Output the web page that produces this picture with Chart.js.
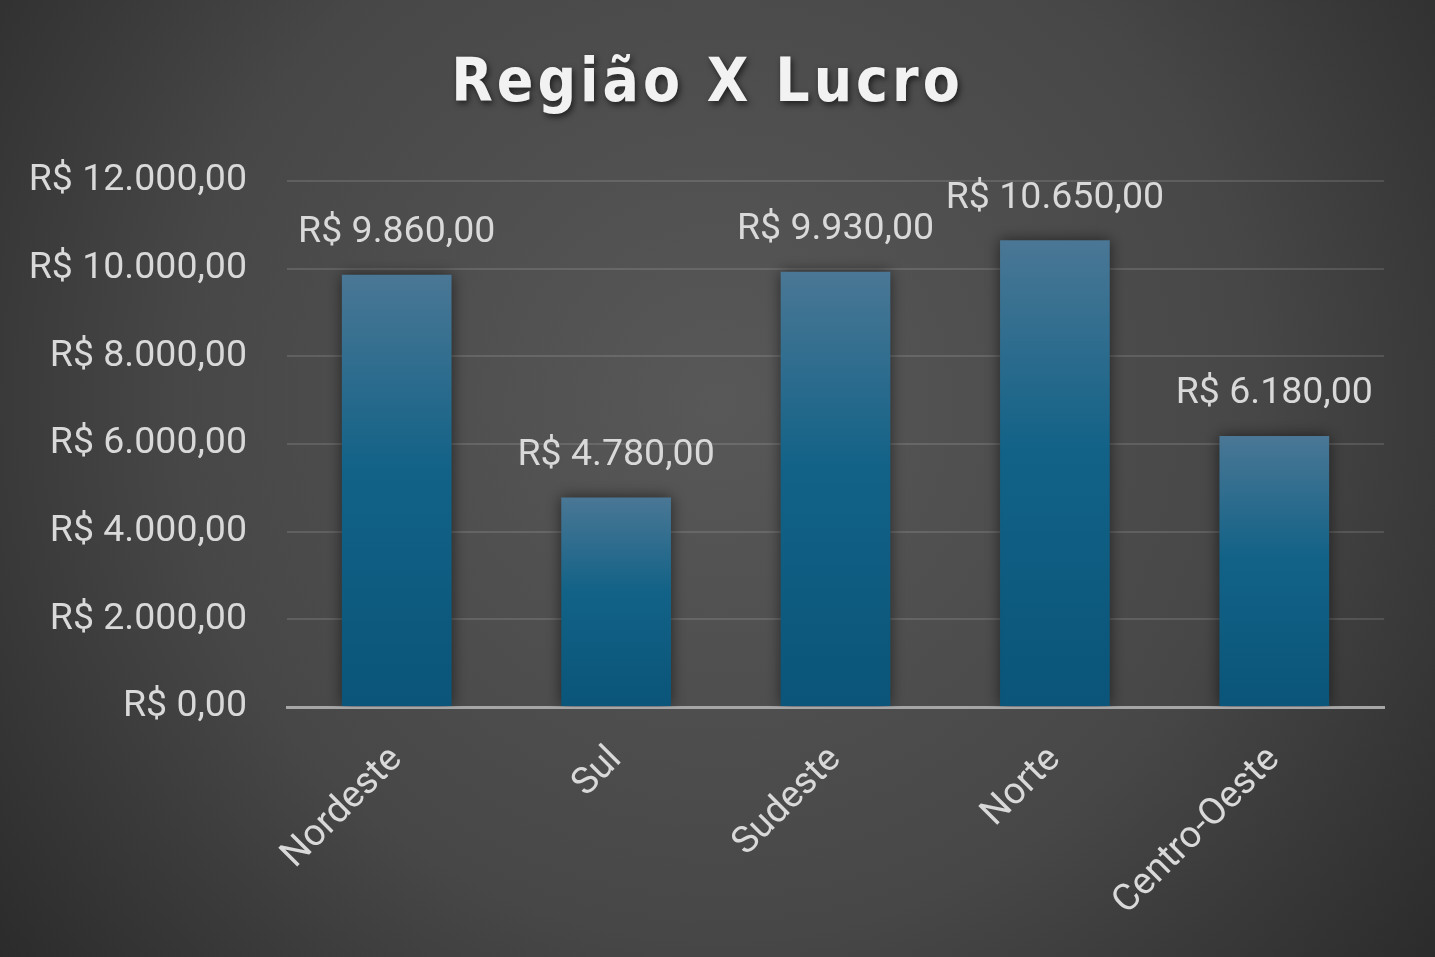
<!DOCTYPE html>
<html>
<head>
<meta charset="utf-8">
<script src="https://cdn.jsdelivr.net/npm/chart.js@4.4.1/dist/chart.umd.min.js"></script>
<style>
  html, body { margin: 0; padding: 0; background: #3a3a3a; }
  #wrap { width: 1435px; height: 957px; position: relative; }
</style>
</head>
<body>
<div id="wrap"><canvas id="c" width="1435" height="957"></canvas></div>
<script>
const categories = ['Nordeste', 'Sul', 'Sudeste', 'Norte', 'Centro-Oeste'];
const lucro = [9860, 4780, 9930, 10650, 6180];
const yTicks = [0, 2000, 4000, 6000, 8000, 10000, 12000];
const titleText = 'Região X Lucro';

function brl(v) {
  const fixed = Math.abs(v).toFixed(2);
  let [intPart, dec] = fixed.split('.');
  intPart = intPart.replace(/\B(?=(\d{3})+(?!\d))/g, '.');
  return 'R$ ' + (v < 0 ? '-' : '') + intPart + ',' + dec;
}

const TEXT = '#d9d9d9';
const FONT = "Roboto, 'Liberation Sans', sans-serif";
const FSIZE = 37.5;

const bgPlugin = {
  id: 'bg',
  beforeDraw(chart) {
    const { ctx, width, height } = chart;
    ctx.save();
    const g = ctx.createRadialGradient(width * 0.5, height * 0.42, 0, width * 0.5, height * 0.42, width * 0.68);
    g.addColorStop(0, '#585858');
    g.addColorStop(0.55, '#474747');
    g.addColorStop(1, '#262626');
    ctx.fillStyle = g;
    ctx.fillRect(0, 0, width, height);
    ctx.restore();
  }
};

const shadowPlugin = {
  id: 'barShadow',
  beforeDatasetDraw(chart) {
    const ctx = chart.ctx;
    ctx.save();
    ctx.shadowColor = 'rgba(0,0,0,0.55)';
    ctx.shadowBlur = 14;
    ctx.shadowOffsetX = 0;
    ctx.shadowOffsetY = 0;
  },
  afterDatasetDraw(chart) {
    chart.ctx.restore();
  }
};

const labelPlugin = {
  id: 'valueLabels',
  afterDatasetsDraw(chart) {
    const ctx = chart.ctx;
    const meta = chart.getDatasetMeta(0);
    ctx.save();
    ctx.font = FSIZE + 'px ' + FONT;
    ctx.fillStyle = TEXT;
    ctx.textAlign = 'center';
    ctx.textBaseline = 'middle';
    meta.data.forEach((bar, i) => {
      const v = chart.data.datasets[0].data[i];
      ctx.fillText(brl(v), bar.x, bar.y - 42);
    });
    ctx.restore();
  }
};

function barGradient(context) {
  const chart = context.chart;
  if (!chart.chartArea || context.type !== 'data') return '#0e5e85';
  const y = chart.scales.y;
  const top = y.getPixelForValue(context.raw);
  const bottom = y.getPixelForValue(0);
  if (!isFinite(top) || !isFinite(bottom) || top === bottom) return '#0e5e85';
  const g = chart.ctx.createLinearGradient(0, top, 0, bottom);
  g.addColorStop(0, '#4a7795');
  g.addColorStop(0.45, '#126287');
  g.addColorStop(1, '#0a5579');
  return g;
}

const chart = new Chart(document.getElementById('c'), {
  type: 'bar',
  data: {
    labels: categories,
    datasets: [{
      label: 'Lucro',
      data: lucro,
      backgroundColor: barGradient,
      borderWidth: 0,
      categoryPercentage: 1.0,
      barPercentage: 0.5
    }]
  },
  options: {
    responsive: false,
    animation: false,
    layout: { padding: { left: 31, right: 51, top: 0, bottom: 0 } },
    plugins: {
      legend: { display: false },
      tooltip: { enabled: false },
      title: {
        display: true,
        text: titleText,
        color: '#f2f2f2',
        font: { family: "'DejaVu Sans Condensed', 'DejaVu Sans', sans-serif", size: 60, weight: 'bold', lineHeight: 1.2 },
        padding: { top: 49, bottom: 60 }
      }
    },
    scales: {
      x: {
        grid: { display: false, drawTicks: false },
        border: { display: true, color: '#a6a6a6', width: 3 },
        afterFit(scale) { scale.paddingLeft = 0; scale.paddingRight = 0; scale.height = 250; },
        ticks: {
          color: TEXT,
          font: { family: FONT, size: FSIZE },
          minRotation: 45,
          maxRotation: 45,
          autoSkip: false,
          padding: 31
        }
      },
      y: {
        min: 0,
        max: 12000,
        afterBuildTicks(scale) { scale.ticks = yTicks.map(v => ({ value: v })); },
        afterFit(scale) { scale.width = 256; },
        grid: { color: 'rgba(255,255,255,0.12)', lineWidth: 2, drawTicks: false },
        border: { display: false },
        ticks: {
          color: TEXT,
          font: { family: FONT, size: FSIZE },
          padding: 40,
          callback: (v) => brl(v)
        }
      }
    }
  },
  plugins: [bgPlugin, shadowPlugin, labelPlugin]
});

// title with letter spacing and soft shadow
const tb = chart.titleBlock;
if (tb) {
  const origDraw = tb.draw.bind(tb);
  tb.draw = function () {
    const ctx = this.ctx;
    ctx.save();
    try { ctx.letterSpacing = '4px'; } catch (e) {}
    ctx.shadowColor = 'rgba(0,0,0,0.6)';
    ctx.shadowBlur = 6;
    ctx.shadowOffsetX = 2;
    ctx.shadowOffsetY = 3;
    origDraw();
    ctx.restore();
  };
}
chart.update('none');
</script>
</body>
</html>
